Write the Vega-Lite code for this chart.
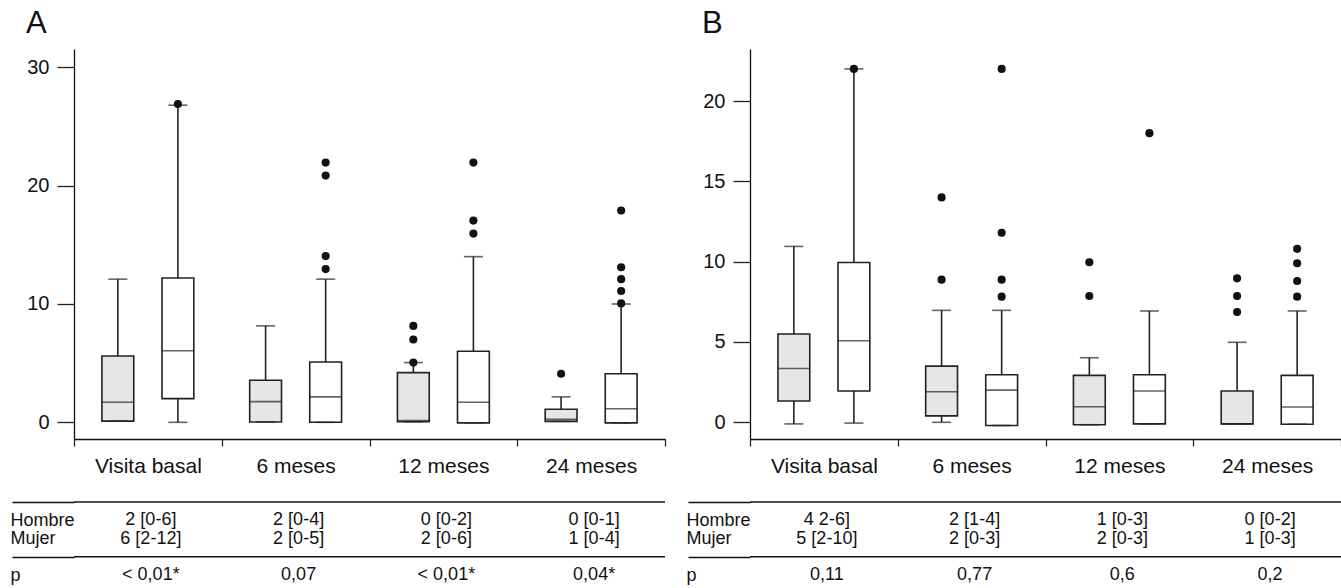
{
  "$schema": "https://vega.github.io/schema/vega-lite/v6.json",
  "background": "white",
  "padding": {"left": 10, "top": 8, "right": 5, "bottom": 2},
  "config": {
    "font": "Liberation Sans",
    "view": {"stroke": null},
    "axis": {"labelColor": "#111", "domainColor": "#111", "tickColor": "#222", "domainWidth": 1.3, "tickWidth": 1.3, "grid": false, "title": null}
  },
  "datasets": {
    "boxesA": [
      {"time": "Visita basal", "sex": "Hombre", "lower": 0.1, "q1": 0.1, "median": 1.7, "q3": 5.6, "upper": 12.1},
      {"time": "Visita basal", "sex": "Mujer", "lower": 0, "q1": 2.0, "median": 6.05, "q3": 12.2, "upper": 26.8},
      {"time": "6 meses", "sex": "Hombre", "lower": 0.03, "q1": 0.03, "median": 1.75, "q3": 3.55, "upper": 8.15},
      {"time": "6 meses", "sex": "Mujer", "lower": 0, "q1": 0, "median": 2.15, "q3": 5.1, "upper": 12.1},
      {"time": "12 meses", "sex": "Hombre", "lower": 0.05, "q1": 0.05, "median": 0.15, "q3": 4.2, "upper": 5.05},
      {"time": "12 meses", "sex": "Mujer", "lower": -0.05, "q1": -0.05, "median": 1.7, "q3": 6.0, "upper": 14.0},
      {"time": "24 meses", "sex": "Hombre", "lower": 0.08, "q1": 0.08, "median": 0.25, "q3": 1.1, "upper": 2.15},
      {"time": "24 meses", "sex": "Mujer", "lower": -0.05, "q1": -0.05, "median": 1.15, "q3": 4.1, "upper": 10.0}
    ],
    "outA": [
      {"time": "Visita basal", "sex": "Mujer", "value": 26.9},
      {"time": "6 meses", "sex": "Mujer", "value": 21.95},
      {"time": "6 meses", "sex": "Mujer", "value": 20.85},
      {"time": "6 meses", "sex": "Mujer", "value": 14.05},
      {"time": "6 meses", "sex": "Mujer", "value": 12.95},
      {"time": "12 meses", "sex": "Hombre", "value": 5.05},
      {"time": "12 meses", "sex": "Hombre", "value": 7.0},
      {"time": "12 meses", "sex": "Hombre", "value": 8.15},
      {"time": "12 meses", "sex": "Mujer", "value": 21.95},
      {"time": "12 meses", "sex": "Mujer", "value": 17.05},
      {"time": "12 meses", "sex": "Mujer", "value": 15.95},
      {"time": "24 meses", "sex": "Hombre", "value": 4.1},
      {"time": "24 meses", "sex": "Mujer", "value": 10.05},
      {"time": "24 meses", "sex": "Mujer", "value": 11.1},
      {"time": "24 meses", "sex": "Mujer", "value": 12.1},
      {"time": "24 meses", "sex": "Mujer", "value": 13.1},
      {"time": "24 meses", "sex": "Mujer", "value": 17.9}
    ],
    "boxesB": [
      {"time": "Visita basal", "sex": "Hombre", "lower": -0.1, "q1": 1.33, "median": 3.35, "q3": 5.5, "upper": 10.95},
      {"time": "Visita basal", "sex": "Mujer", "lower": -0.05, "q1": 1.95, "median": 5.08, "q3": 9.95, "upper": 22.0},
      {"time": "6 meses", "sex": "Hombre", "lower": 0, "q1": 0.4, "median": 1.9, "q3": 3.5, "upper": 6.97},
      {"time": "6 meses", "sex": "Mujer", "lower": -0.2, "q1": -0.2, "median": 2.0, "q3": 2.96, "upper": 6.97},
      {"time": "12 meses", "sex": "Hombre", "lower": -0.15, "q1": -0.15, "median": 0.97, "q3": 2.92, "upper": 4.02},
      {"time": "12 meses", "sex": "Mujer", "lower": -0.1, "q1": -0.1, "median": 1.95, "q3": 2.96, "upper": 6.93},
      {"time": "24 meses", "sex": "Hombre", "lower": -0.1, "q1": -0.1, "median": -0.1, "q3": 1.95, "upper": 4.98},
      {"time": "24 meses", "sex": "Mujer", "lower": -0.12, "q1": -0.12, "median": 0.95, "q3": 2.92, "upper": 6.93}
    ],
    "outB": [
      {"time": "Visita basal", "sex": "Mujer", "value": 22.0},
      {"time": "6 meses", "sex": "Hombre", "value": 14.0},
      {"time": "6 meses", "sex": "Hombre", "value": 8.88},
      {"time": "6 meses", "sex": "Mujer", "value": 22.0},
      {"time": "6 meses", "sex": "Mujer", "value": 11.8},
      {"time": "6 meses", "sex": "Mujer", "value": 8.88},
      {"time": "6 meses", "sex": "Mujer", "value": 7.82},
      {"time": "12 meses", "sex": "Hombre", "value": 9.96},
      {"time": "12 meses", "sex": "Hombre", "value": 7.86},
      {"time": "12 meses", "sex": "Mujer", "value": 18.0},
      {"time": "24 meses", "sex": "Hombre", "value": 8.96},
      {"time": "24 meses", "sex": "Hombre", "value": 7.86},
      {"time": "24 meses", "sex": "Hombre", "value": 6.87},
      {"time": "24 meses", "sex": "Mujer", "value": 10.8},
      {"time": "24 meses", "sex": "Mujer", "value": 9.9},
      {"time": "24 meses", "sex": "Mujer", "value": 8.8},
      {"time": "24 meses", "sex": "Mujer", "value": 7.82}
    ],
    "tableA": [
      {"row": "Hombre", "time": "Visita basal", "label": "2 [0-6]"},
      {"row": "Hombre", "time": "6 meses", "label": "2 [0-4]"},
      {"row": "Hombre", "time": "12 meses", "label": "0 [0-2]"},
      {"row": "Hombre", "time": "24 meses", "label": "0 [0-1]"},
      {"row": "Mujer", "time": "Visita basal", "label": "6 [2-12]"},
      {"row": "Mujer", "time": "6 meses", "label": "2 [0-5]"},
      {"row": "Mujer", "time": "12 meses", "label": "2 [0-6]"},
      {"row": "Mujer", "time": "24 meses", "label": "1 [0-4]"},
      {"row": "p", "time": "Visita basal", "label": "< 0,01*"},
      {"row": "p", "time": "6 meses", "label": "0,07"},
      {"row": "p", "time": "12 meses", "label": "< 0,01*"},
      {"row": "p", "time": "24 meses", "label": "0,04*"}
    ],
    "tableB": [
      {"row": "Hombre", "time": "Visita basal", "label": "4 2-6]"},
      {"row": "Hombre", "time": "6 meses", "label": "2 [1-4]"},
      {"row": "Hombre", "time": "12 meses", "label": "1 [0-3]"},
      {"row": "Hombre", "time": "24 meses", "label": "0 [0-2]"},
      {"row": "Mujer", "time": "Visita basal", "label": "5 [2-10]"},
      {"row": "Mujer", "time": "6 meses", "label": "2 [0-3]"},
      {"row": "Mujer", "time": "12 meses", "label": "2 [0-3]"},
      {"row": "Mujer", "time": "24 meses", "label": "1 [0-3]"},
      {"row": "p", "time": "Visita basal", "label": "0,11"},
      {"row": "p", "time": "6 meses", "label": "0,77"},
      {"row": "p", "time": "12 meses", "label": "0,6"},
      {"row": "p", "time": "24 meses", "label": "0,2"}
    ],
    "lines": [{"line": "top"}, {"line": "sep"}]
  },
  "spacing": 20,
  "hconcat": [
    {
      "spacing": 17,
      "vconcat": [
        {
          "width": 591,
          "height": 390,
          "title": {"text": "A", "anchor": "start", "frame": "group", "fontSize": 31, "fontWeight": "normal", "baseline": "alphabetic", "offset": -15, "dx": -48, "color": "#111"},
          "data": {"name": "boxesA"},
          "encoding": {
            "x": {"field": "time", "type": "nominal", "scale": {"domain": ["Visita basal", "6 meses", "12 meses", "24 meses"], "paddingInner": 0, "paddingOuter": 0},
                  "axis": {"labelAngle": 0, "tickBand": "extent", "tickSize": 7, "labelFontSize": 21, "labelPadding": 9}},
            "xOffset": {"field": "sex", "type": "nominal", "scale": {"domain": ["Hombre", "Mujer"], "paddingInner": 0.47, "paddingOuter": 0.465}}
          },
          "layer": [
            {"mark": {"type": "rule", "color": "#222", "strokeWidth": 1.6},
             "encoding": {"y": {"field": "lower", "type": "quantitative", "scale": {"domain": [-1.41, 31.55], "nice": false, "zero": false},
                                "axis": {"values": [0, 10, 20, 30], "tickSize": 17, "labelFontSize": 20, "labelPadding": 8}},
                          "y2": {"field": "upper"}}},
            {"mark": {"type": "bar", "stroke": "#222", "strokeWidth": 1.6},
             "encoding": {"y": {"field": "q1", "type": "quantitative"}, "y2": {"field": "q3"},
                          "fill": {"field": "sex", "type": "nominal", "scale": {"domain": ["Hombre", "Mujer"], "range": ["#e6e6e6", "#ffffff"]}, "legend": null}}},
            {"mark": {"type": "tick", "color": "#222", "size": 32, "thickness": 1.6}, "encoding": {"y": {"field": "median", "type": "quantitative"}}},
            {"mark": {"type": "tick", "color": "#222", "size": 19, "thickness": 1.6}, "encoding": {"y": {"field": "upper", "type": "quantitative"}}},
            {"mark": {"type": "tick", "color": "#222", "size": 19, "thickness": 1.6}, "encoding": {"y": {"field": "lower", "type": "quantitative"}}},
            {"data": {"name": "outA"}, "mark": {"type": "point", "filled": true, "color": "#111", "size": 66, "opacity": 1},
             "encoding": {"y": {"field": "value", "type": "quantitative"}}}
          ]
        },
        {
          "width": 591,
          "height": 73,
          "layer": [
            {"data": {"name": "lines"}, "mark": {"type": "rule", "color": "#111", "strokeWidth": 1.3},
             "encoding": {"y": {"field": "line", "type": "nominal", "scale": {"type": "point", "domain": ["top", "Hombre", "Mujer", "sep", "p"], "padding": 0},
                                "axis": {"domain": false, "tickSize": 62, "tickWidth": 1.3,
                                         "tickColor": {"condition": {"test": "datum.value === 'top' || datum.value === 'sep'", "value": "#111"}, "value": "transparent"},
                                         "labelAlign": "left", "labelPadding": 2, "labelFontSize": 18,
                                         "labelExpr": "datum.value === 'top' || datum.value === 'sep' ? '' : datum.value"}}}},
            {"data": {"name": "tableA"}, "mark": {"type": "text", "fontSize": 18, "color": "#111", "dx": 3},
             "encoding": {"x": {"field": "time", "type": "nominal", "scale": {"domain": ["Visita basal", "6 meses", "12 meses", "24 meses"]}, "axis": null},
                          "y": {"field": "row", "type": "nominal"},
                          "text": {"field": "label"}}}
          ]
        }
      ]
    },
    {
      "spacing": 17,
      "vconcat": [
        {
          "width": 591,
          "height": 390,
          "title": {"text": "B", "anchor": "start", "frame": "group", "fontSize": 31, "fontWeight": "normal", "baseline": "alphabetic", "offset": -15, "dx": -48, "color": "#111"},
          "data": {"name": "boxesB"},
          "encoding": {
            "x": {"field": "time", "type": "nominal", "scale": {"domain": ["Visita basal", "6 meses", "12 meses", "24 meses"], "paddingInner": 0, "paddingOuter": 0},
                  "axis": {"labelAngle": 0, "tickBand": "extent", "tickSize": 7, "labelFontSize": 21, "labelPadding": 9}},
            "xOffset": {"field": "sex", "type": "nominal", "scale": {"domain": ["Hombre", "Mujer"], "paddingInner": 0.47, "paddingOuter": 0.465}}
          },
          "layer": [
            {"mark": {"type": "rule", "color": "#222", "strokeWidth": 1.6},
             "encoding": {"y": {"field": "lower", "type": "quantitative", "scale": {"domain": [-1.04, 23.24], "nice": false, "zero": false},
                                "axis": {"values": [0, 5, 10, 15, 20], "tickSize": 17, "labelFontSize": 20, "labelPadding": 8}},
                          "y2": {"field": "upper"}}},
            {"mark": {"type": "bar", "stroke": "#222", "strokeWidth": 1.6},
             "encoding": {"y": {"field": "q1", "type": "quantitative"}, "y2": {"field": "q3"},
                          "fill": {"field": "sex", "type": "nominal", "scale": {"domain": ["Hombre", "Mujer"], "range": ["#e6e6e6", "#ffffff"]}, "legend": null}}},
            {"mark": {"type": "tick", "color": "#222", "size": 32, "thickness": 1.6}, "encoding": {"y": {"field": "median", "type": "quantitative"}}},
            {"mark": {"type": "tick", "color": "#222", "size": 19, "thickness": 1.6}, "encoding": {"y": {"field": "upper", "type": "quantitative"}}},
            {"mark": {"type": "tick", "color": "#222", "size": 19, "thickness": 1.6}, "encoding": {"y": {"field": "lower", "type": "quantitative"}}},
            {"data": {"name": "outB"}, "mark": {"type": "point", "filled": true, "color": "#111", "size": 66, "opacity": 1},
             "encoding": {"y": {"field": "value", "type": "quantitative"}}}
          ]
        },
        {
          "width": 591,
          "height": 73,
          "layer": [
            {"data": {"name": "lines"}, "mark": {"type": "rule", "color": "#111", "strokeWidth": 1.3},
             "encoding": {"y": {"field": "line", "type": "nominal", "scale": {"type": "point", "domain": ["top", "Hombre", "Mujer", "sep", "p"], "padding": 0},
                                "axis": {"domain": false, "tickSize": 62, "tickWidth": 1.3,
                                         "tickColor": {"condition": {"test": "datum.value === 'top' || datum.value === 'sep'", "value": "#111"}, "value": "transparent"},
                                         "labelAlign": "left", "labelPadding": 2, "labelFontSize": 18,
                                         "labelExpr": "datum.value === 'top' || datum.value === 'sep' ? '' : datum.value"}}}},
            {"data": {"name": "tableB"}, "mark": {"type": "text", "fontSize": 18, "color": "#111", "dx": 3},
             "encoding": {"x": {"field": "time", "type": "nominal", "scale": {"domain": ["Visita basal", "6 meses", "12 meses", "24 meses"]}, "axis": null},
                          "y": {"field": "row", "type": "nominal"},
                          "text": {"field": "label"}}}
          ]
        }
      ]
    }
  ]
}
